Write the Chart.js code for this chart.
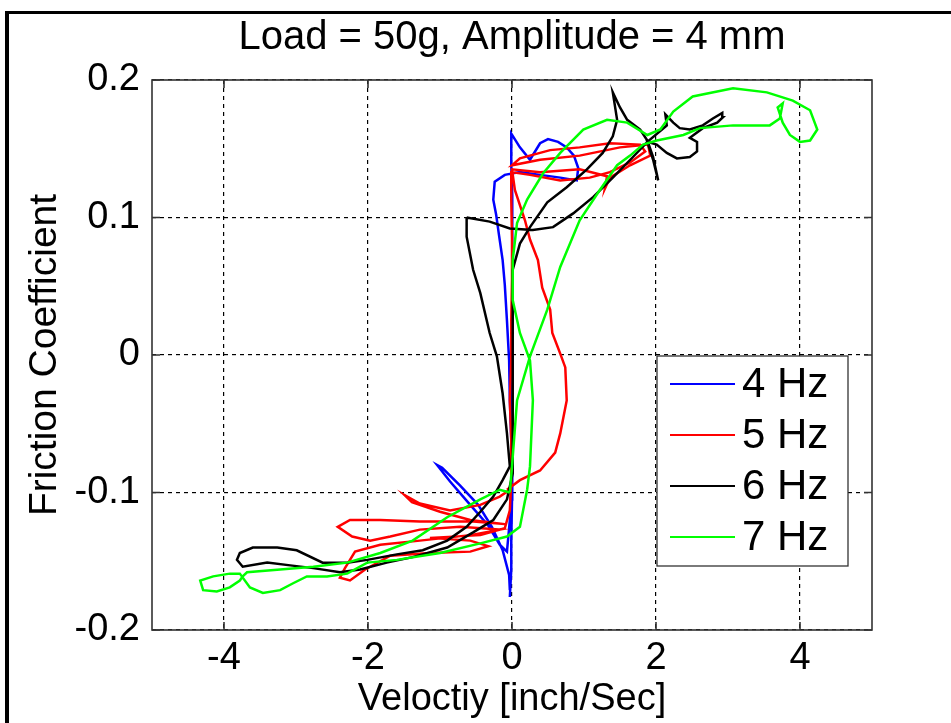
<!DOCTYPE html>
<html>
<head>
<meta charset="utf-8">
<script src="https://cdn.jsdelivr.net/npm/chart.js@4.4.1/dist/chart.umd.min.js"></script>
<style>
  html, body { margin: 0; padding: 0; background: #fff; overflow: hidden; }
  #plot { position: absolute; left: 0; top: 0; }
  #frame { position: absolute; left: 5px; top: 11px; width: 1000px; height: 800px;
           border-top: 3px solid #000; border-left: 4px solid #000; pointer-events: none; }
</style>
</head>
<body>
<canvas id="plot" width="951" height="723" style="width:951px;height:723px"></canvas>
<div id="frame"></div>
<script>
const chartTitle = 'Load = 50g, Amplitude = 4 mm';
const xTitle = 'Veloctiy [inch/Sec]';
const yTitle = 'Friction Coefficient';
const seriesLabels = ['4 Hz', '5 Hz', '6 Hz', '7 Hz'];
const seriesColors = ['#0000ff', '#ff0000', '#000000', '#00ff00'];
const xTickValues = [-4, -2, 0, 2, 4];
const yTickValues = [-0.2, -0.1, 0, 0.1, 0.2];

// 4 Hz
const vel4 = [-0.03, -0.01, -0.01, 0, 0, 0, 0, 0, 0.01, 0.01, 0.01, 0, -0.01, -0.01, 0.11, 0.25, 0.39, 0.5, 0.64, 0.76,
  0.86, 0.92, 0.9, 0.67, 0.39, 0.11, -0.1, -0.24, -0.26, -0.22, -0.18, -0.13, -0.1, -0.07, -0.04, -0.03, -0.01, -0.01,
  -0.03, -0.07, -0.17, -0.33, -0.58, -0.86, -1.04, -0.97, -0.72, -0.47, -0.28, -0.13, -0.04, -0.03];
const fric4 = [-0.176, -0.156, -0.135, -0.105, -0.076, -0.047, -0.018, 0.011, 0.04, 0.069, 0.095, 0.116, 0.138, 0.161,
  0.151, 0.142, 0.154, 0.157, 0.155, 0.151, 0.145, 0.136, 0.127, 0.129, 0.131, 0.133, 0.131, 0.126, 0.113, 0.102, 0.087,
  0.069, 0.051, 0.025, -0.004, -0.033, -0.062, -0.091, -0.12, -0.143, -0.138, -0.124, -0.109, -0.092, -0.08, -0.082,
  -0.095, -0.109, -0.125, -0.142, -0.16, -0.171];

// 5 Hz
const vel5 = [-0.03, -0.17, -0.44, -0.86, -1.28, -1.49, -1.39, -1.0, -0.58, -0.1,
  -0.58, -1.28, -1.83, -2.25, -2.42, -2.22, -1.97, -1.69, -1.28, -0.72,
  -0.17, -0.58, -1.28, -1.83, -2.18, -2.32, -2.39, -2.25, -2.04, -1.69,
  -1.14, -0.58, -0.33, -0.58, -1.14, -0.44, -0.1, -0.03, -0.01, -0.01,
  -0.03, -0.01, -0.01, 0, 0, -0.01, -0.01, 0.25, 0.67, 1.08,
  1.36, 1.64, 1.85, 1.78, 1.36, 0.94, 0.53, 0.11, 0, 0.39,
  0.94, 1.5, 1.89, 1.92, 1.64, 1.36, 1.29, 1.32, 0.94, 0.39,
  0, 0.04, 0.18, 0.25, 0.36, 0.42, 0.53, 0.56, 0.67, 0.74,
  0.76, 0.67, 0.6, 0.39, 0.11, -0.07];
const fric5 = [-0.098, -0.103, -0.109, -0.113, -0.108, -0.102, -0.107, -0.114, -0.12, -0.123,
  -0.121, -0.121, -0.12, -0.12, -0.125, -0.132, -0.135, -0.132, -0.127, -0.125,
  -0.127, -0.131, -0.135, -0.138, -0.143, -0.155, -0.162, -0.164, -0.156, -0.146,
  -0.144, -0.143, -0.139, -0.135, -0.133, -0.131, -0.126, -0.113, -0.091, -0.062,
  -0.033, -0.004, 0.025, 0.055, 0.084, 0.113, 0.133, 0.131, 0.127, 0.129,
  0.133, 0.14, 0.148, 0.153, 0.154, 0.151, 0.149, 0.143, 0.138, 0.142,
  0.145, 0.151, 0.153, 0.145, 0.138, 0.129, 0.121, 0.13, 0.135, 0.133,
  0.135, 0.12, 0.098, 0.084, 0.069, 0.049, 0.033, 0.016, 0.001, -0.009,
  -0.033, -0.057, -0.071, -0.084, -0.091, -0.098];

// 6 Hz
const vel6 = [-0.63, -0.63, -0.54, -0.44, -0.31, -0.21, -0.13, -0.07, -0.03, -0.13,
  -0.26, -0.44, -0.63, -0.9, -1.24, -1.6, -2.01, -2.29, -2.63, -2.99,
  -3.26, -3.6, -3.78, -3.82, -3.74, -3.4, -3.08, -2.76, -2.39, -2.11,
  -1.74, -1.38, -0.9, -0.54, -0.26, -0.07, 0.01, 0.01, 0.01, 0.01,
  0.01, 0.01, 0.01, 0.11, 0.25, 0.49, 0.76, 1.04, 1.26, 1.4,
  1.46, 1.4, 1.5, 1.6, 1.78, 1.88, 1.96, 2.03, 1.96, 1.88,
  2.01, 2.15, 2.29, 2.47, 2.57, 2.57, 2.47, 2.65, 2.85, 2.93,
  2.92, 2.79, 2.65, 2.47, 2.33, 2.24, 2.13, 2.15, 1.88, 1.68,
  1.4, 1.13, 0.85, 0.57, 0.29, -0.03, -0.31, -0.63];
const fric6 = [0.1, 0.086, 0.062, 0.045, 0.016, -0.001, -0.028, -0.057, -0.081, -0.091,
  -0.103, -0.114, -0.125, -0.135, -0.142, -0.145, -0.149, -0.151, -0.151, -0.142,
  -0.14, -0.14, -0.144, -0.149, -0.154, -0.151, -0.153, -0.155, -0.158, -0.156,
  -0.151, -0.147, -0.14, -0.129, -0.12, -0.105, -0.086, -0.062, -0.033, -0.004,
  0.025, 0.047, 0.062, 0.081, 0.093, 0.111, 0.122, 0.135, 0.147, 0.159,
  0.171, 0.191, 0.18, 0.171, 0.164, 0.156, 0.144, 0.127, 0.142, 0.155,
  0.153, 0.147, 0.143, 0.144, 0.148, 0.155, 0.158, 0.165, 0.169, 0.173,
  0.176, 0.172, 0.167, 0.164, 0.165, 0.169, 0.175, 0.167, 0.155, 0.144,
  0.129, 0.115, 0.103, 0.093, 0.091, 0.092, 0.097, 0.1];

// 7 Hz
const vel7 = [-0.03, -0.17, -0.44, -0.9, -1.38, -1.83, -2.29, -2.76, -3.22, -3.68,
  -3.74, -3.78, -3.92, -4.1, -4.29, -4.33, -4.15, -3.92, -3.78, -3.64,
  -3.46, -3.22, -3.04, -2.85, -2.57, -2.29, -2.01, -1.6, -1.0, -0.44,
  -0.07, 0.11, 0.21, 0.25, 0.29, 0.25, 0.11, 0.01, 0.01, 0.07,
  0.21, 0.43, 0.67, 0.99, 1.32, 1.6, 1.88, 2.06, 2.24, 2.51,
  3.07, 3.54, 3.9, 4.14, 4.24, 4.14, 4.0, 3.86, 3.76, 3.69,
  3.76, 3.72, 3.58, 3.07, 2.61, 2.38, 2.01, 1.82, 1.64, 1.46,
  1.22, 0.94, 0.67, 0.49, 0.25, 0.07, 0, -0.03];
const fric7 = [-0.1, -0.098, -0.105, -0.118, -0.135, -0.144, -0.151, -0.154, -0.156, -0.158,
  -0.161, -0.164, -0.169, -0.172, -0.171, -0.164, -0.161, -0.159, -0.159, -0.169,
  -0.173, -0.171, -0.166, -0.161, -0.161, -0.159, -0.151, -0.149, -0.144, -0.137,
  -0.132, -0.125, -0.098, -0.081, -0.033, -0.004, 0.016, 0.04, 0.069, 0.096,
  0.113, 0.132, 0.147, 0.164, 0.171, 0.169, 0.16, 0.164, 0.177, 0.188,
  0.194, 0.191, 0.185, 0.178, 0.164, 0.156, 0.155, 0.16, 0.169, 0.18,
  0.183, 0.172, 0.167, 0.167, 0.165, 0.16, 0.156, 0.153, 0.145, 0.138,
  0.12, 0.098, 0.064, 0.033, -0.001, -0.033, -0.081, -0.1];

const FONT = "'Liberation Sans', Arial, Helvetica, sans-serif";
const toPoints = (xs, ys) => xs.map((x, i) => ({ x: x, y: ys[i] }));
const series = [[vel4, fric4], [vel5, fric5], [vel6, fric6], [vel7, fric7]];

const datasets = series.map((s, i) => ({
  label: seriesLabels[i],
  data: toPoints(s[0], s[1]),
  borderColor: seriesColors[i],
  backgroundColor: seriesColors[i],
  borderWidth: 2.5,
  pointRadius: 0,
  showLine: true,
  tension: 0,
  order: series.length - i
}));

// plot title centred over the axes
const titlePlugin = {
  id: 'plotTitle',
  afterDraw(chart) {
    const { ctx, chartArea } = chart;
    ctx.save();
    ctx.font = '40px ' + FONT;
    ctx.fillStyle = '#000';
    ctx.textAlign = 'center';
    ctx.textBaseline = 'middle';
    ctx.fillText(chartTitle, (chartArea.left + chartArea.right) / 2, 38);
    ctx.restore();
  }
};

// axes box with inward tick marks, plus the legend box
const boxPlugin = {
  id: 'boxAndLegend',
  afterDatasetsDraw(chart) {
    const { ctx, chartArea: a, scales } = chart;
    ctx.save();

    // legend
    const lx = 657, ly = 356, lw = 191, lh = 210;
    ctx.fillStyle = '#fff';
    ctx.fillRect(lx, ly, lw, lh);
    ctx.strokeStyle = '#333';
    ctx.lineWidth = 1.3;
    ctx.strokeRect(lx, ly, lw, lh);
    ctx.font = '42px ' + FONT;
    ctx.textBaseline = 'middle';
    ctx.textAlign = 'left';
    chart.data.datasets.forEach((ds, i) => {
      const y = ly + 28 + i * 51;
      ctx.strokeStyle = ds.borderColor;
      ctx.lineWidth = 2;
      ctx.beginPath();
      ctx.moveTo(lx + 13, y);
      ctx.lineTo(lx + 78, y);
      ctx.stroke();
      ctx.fillStyle = '#000';
      ctx.fillText(ds.label, lx + 85, y + 1);
    });

    // frame
    ctx.strokeStyle = '#333';
    ctx.lineWidth = 1.6;
    ctx.strokeRect(a.left, a.top, a.right - a.left, a.bottom - a.top);
    ctx.beginPath();
    xTickValues.forEach(v => {
      const px = scales.x.getPixelForValue(v);
      ctx.moveTo(px, a.bottom); ctx.lineTo(px, a.bottom - 8);
      ctx.moveTo(px, a.top); ctx.lineTo(px, a.top + 8);
    });
    yTickValues.forEach(v => {
      const py = scales.y.getPixelForValue(v);
      ctx.moveTo(a.left, py); ctx.lineTo(a.left + 8, py);
      ctx.moveTo(a.right, py); ctx.lineTo(a.right - 8, py);
    });
    ctx.stroke();
    ctx.restore();
  }
};

new Chart(document.getElementById('plot'), {
  type: 'scatter',
  data: { datasets: datasets },
  options: {
    responsive: false,
    animation: false,
    devicePixelRatio: 1,
    layout: { padding: { top: 80, right: 79, left: 0, bottom: 0 } },
    plugins: {
      legend: { display: false },
      title: { display: false },
      tooltip: { enabled: false }
    },
    scales: {
      x: {
        type: 'linear',
        min: -5,
        max: 5,
        afterBuildTicks: s => { s.ticks = xTickValues.map(v => ({ value: v })); },
        afterFit: s => { s.height = 93; },
        ticks: { color: '#000', font: { family: FONT, size: 38 }, padding: 6, maxRotation: 0, autoSkip: false,
                 callback: v => String(v) },
        grid: { color: '#000', lineWidth: 1.2, drawTicks: false },
        border: { display: false, dash: [4, 4] },
        title: { display: true, text: xTitle, color: '#000', font: { family: FONT, size: 38 }, padding: { top: 0, bottom: 1 } }
      },
      y: {
        type: 'linear',
        min: -0.2,
        max: 0.2,
        afterBuildTicks: s => { s.ticks = yTickValues.map(v => ({ value: v })); },
        afterFit: s => { s.width = 152; },
        ticks: { color: '#000', font: { family: FONT, size: 38 }, padding: 12, autoSkip: false,
                 callback: v => String(v) },
        grid: { color: '#000', lineWidth: 1.2, drawTicks: false },
        border: { display: false, dash: [4, 4] },
        title: { display: true, text: yTitle, color: '#000', font: { family: FONT, size: 39 }, padding: { top: 22, bottom: 0 } }
      }
    }
  },
  plugins: [boxPlugin, titlePlugin]
});
</script>
</body>
</html>
